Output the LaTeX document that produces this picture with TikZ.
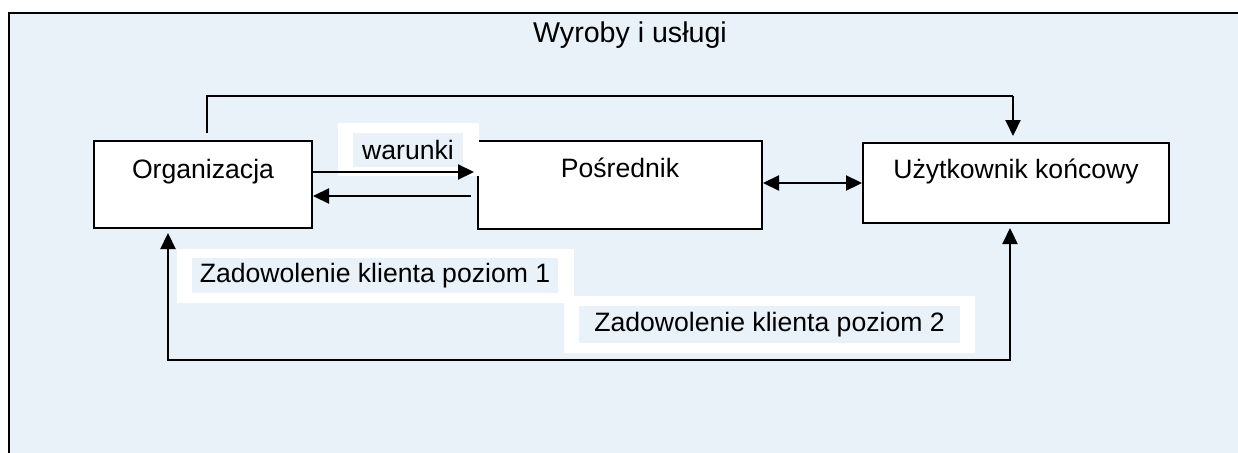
\documentclass[tikz,border=0pt]{standalone}
\usepackage{fontspec}
\setmainfont{Liberation Sans}
\usetikzlibrary{arrows.meta}
\definecolor{panel}{HTML}{E9F1F9}
\begin{document}
\begin{tikzpicture}[x=1pt,y=-1pt,
  txt/.style={font=\fontsize{26.6}{30}\selectfont},
  box/.style={txt, draw=black, line width=2pt, fill=white, inner sep=0pt, anchor=base},
  tag/.style={txt, fill=panel, inner sep=0pt},
  pad/.style={fill=white, inner sep=0pt},
  conn/.style={line width=2.2pt, -{Triangle[length=16pt,width=15pt]}},
  both/.style={line width=2.2pt, {Triangle[length=16pt,width=15pt]}-{Triangle[length=16pt,width=15pt]}}]
\useasboundingbox (0,0) rectangle (1238,452);
\clip (0,0) rectangle (1238,452);
\fill[white] (0,0) rectangle (1238,452);
% panel, open to the right and bottom
\draw[line width=2.4pt, fill=panel] (9,13) rectangle (1260,480);

\node[txt, font=\fontsize{28.6}{32}\selectfont, anchor=base] (title) at (630,43) {Wyroby i usługi};

% main boxes
\node[box, minimum width=218pt, text height=37pt, text depth=50pt] (org) at (203,178) {Organizacja};
\node[box, minimum width=284pt, text height=36pt, text depth=52pt] (pos) at (620,177) {Pośrednik};
\node[box, minimum width=306pt, text height=35pt, text depth=45pt] (user) at (1016,178) {Użytkownik końcowy};

% labels on white pads
\node[pad, minimum width=141pt, minimum height=53pt] (warpad) at (408.5,149.5) {};
\node[tag, minimum width=110pt, minimum height=34pt] (war) at (408,150) {warunki};
\node[pad, minimum width=397pt, minimum height=54pt] (lab1pad) at (375.5,276) {};
\node[pad, minimum width=411pt, minimum height=57pt] (lab2pad) at (769.5,324.5) {};
\node[tag, minimum width=366pt, minimum height=35pt] (lab1) at (375,275.5) {Zadowolenie klienta poziom 1};
\node[tag, minimum width=381pt, minimum height=37pt] (lab2) at (769.5,324.5) {Zadowolenie klienta poziom 2};

% products and services go straight to the end user
\coordinate (tstart) at (207,133);
\coordinate (ttop) at (207,96);
\coordinate (tcorner) at (1013,96);
\draw[line width=1.1pt] (tstart) -- (ttop) -- (tcorner);
\draw[conn, shorten >=6pt] (tcorner) -- (user.north -| tcorner);

% organisation <-> intermediary
\coordinate (fwd) at (0,172);
\coordinate (bwd) at (0,196);
\draw[conn, shorten >=3pt] (org.east |- fwd) -- (pos.west |- fwd);
\draw[conn, shorten <=6pt] (pos.west |- bwd) -- (org.east |- bwd);

% intermediary <-> end user
\coordinate (mid) at (0,183);
\draw[both] (pos.east |- mid) -- (user.west |- mid);

% satisfaction feedback loop
\coordinate (bl) at (168,360);
\coordinate (br) at (1010,360);
\draw[both, shorten <=4pt, shorten >=4pt] (org.south -| bl) -- (bl) -- (br) -- (user.south -| br);
\end{tikzpicture}
\end{document}
